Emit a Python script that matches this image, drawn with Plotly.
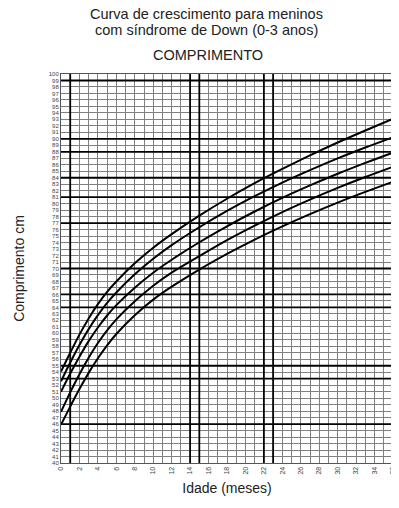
import plotly.graph_objects as go

# ---- data ----
months = [0, 1, 2, 3, 4, 5, 6, 8, 10, 12, 15, 18, 21, 24, 27, 30, 33, 36]
p90 = [54.1, 57.0, 59.8, 62.3, 64.5, 66.4, 68.0, 70.8, 73.2, 75.3, 78.15, 80.76, 83.16, 85.35, 87.45, 89.43, 91.29, 93.09]
p75 = [52.6, 55.5, 58.2, 60.65, 62.8, 64.7, 66.3, 69.1, 71.5, 73.6, 76.36, 78.88, 81.16, 83.26, 85.18, 86.98, 88.66, 90.25]
p50 = [51.0, 53.8, 56.4, 58.8, 60.9, 62.75, 64.35, 67.05, 69.35, 71.35, 74.05, 76.51, 78.79, 80.89, 82.81, 84.61, 86.29, 87.88]
p25 = [47.9, 50.9, 53.7, 56.25, 58.5, 60.45, 62.15, 64.95, 67.35, 69.35, 71.9, 74.36, 76.61, 78.71, 80.63, 82.43, 84.11, 85.7]
p10 = [45.9, 48.7, 51.4, 53.9, 56.15, 58.15, 59.9, 62.8, 65.2, 67.2, 69.84, 72.24, 74.46, 76.5, 78.39, 80.16, 81.81, 83.37]
series = [("90", p90), ("75", p75), ("50", p50), ("25", p25), ("10", p10)]

x_ticks = list(range(0, 37, 2))
y_ticks = list(range(40, 101, 1))
thick_x = [1, 14, 15, 22, 23, 36]
thick_y = [99, 90, 88, 84, 81, 77, 70, 66, 64, 55, 53, 46]

title_lines = ["Curva de crescimento para meninos", "com síndrome de Down (0-3 anos)", "COMPRIMENTO"]

fig = go.Figure()
for name, vals in series:
    fig.add_trace(go.Scatter(x=months, y=vals, mode="lines", name=name,
                             line=dict(color="black", width=2, shape="spline", smoothing=0.8),
                             showlegend=False, hoverinfo="skip"))
    fig.add_annotation(x=36, y=vals[-1], xref="x", yref="y", text=name, showarrow=False,
                       xanchor="left", yanchor="top", xshift=1, yshift=-1,
                       font=dict(size=8, color="black", family="Liberation Sans"))

shapes = []
for xv in thick_x:
    shapes.append(dict(type="line", xref="x", yref="y", x0=xv, x1=xv, y0=40, y1=100,
                       line=dict(color="black", width=1.8)))
for yv in thick_y:
    shapes.append(dict(type="line", xref="x", yref="y", x0=0, x1=36, y0=yv, y1=yv,
                       line=dict(color="black", width=1.8)))
fig.update_layout(shapes=shapes)

fig.update_xaxes(range=[0, 36], tickvals=x_ticks, ticktext=[str(v) for v in x_ticks],
                 tickangle=-90, tickfont=dict(size=7, color="#444", family="Liberation Sans"),
                 showgrid=True, gridcolor="#808080", gridwidth=1,
                 minor=dict(dtick=1, showgrid=True, gridcolor="#808080", gridwidth=1),
                 zeroline=False, showline=True, linecolor="#555", linewidth=1, mirror=True,
                 ticks="", ticklen=0, automargin=False,
                 title=dict(text="Idade (meses)", font=dict(size=14, color="#222", family="Liberation Sans"), standoff=9))
fig.update_yaxes(range=[40, 100], tickvals=y_ticks, ticktext=[str(v) for v in y_ticks],
                 tickfont=dict(size=6, color="#444", family="Liberation Sans"),
                 showgrid=True, gridcolor="#808080", gridwidth=1,
                 zeroline=False, showline=True, linecolor="#555", linewidth=1, mirror=True,
                 ticks="", ticklen=0, automargin=False,
                 title=dict(text="Comprimento cm", font=dict(size=14, color="#222", family="Liberation Sans"), standoff=20))

for txt, shift, xc in zip(title_lines, [60, 44, 19], [0.437, 0.437, 0.442]):
    fig.add_annotation(x=xc, y=1, xref="paper", yref="paper", yshift=shift,
                       text=txt, showarrow=False, xanchor="center", yanchor="middle",
                       font=dict(size=14.5, color="#222", family="Liberation Sans"))

# page body has an 8px default margin, so the figure is sized to fit the 399x508 window
fig.update_layout(width=391, height=500, margin=dict(l=53, r=6, t=66, b=45),
                  paper_bgcolor="white", plot_bgcolor="white")
fig.write_html("out.html")
